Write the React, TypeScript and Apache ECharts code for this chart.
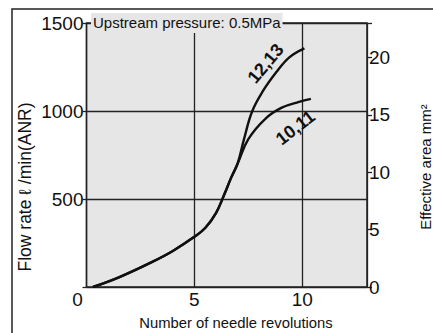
import React, { useEffect, useRef } from "react";
import * as echarts from "echarts";

const xTicks = [0, 5, 10];
const flowTicks = [0, 500, 1000, 1500];
const areaTicks = [0, 5, 10, 15, 20];
const revs1213 = [0.3, 1.5, 3.0, 4.0, 5.0, 5.5, 6.0, 6.4, 6.7, 7.0, 7.3, 7.67, 8.15, 8.8, 9.4, 10.1];
const flow1213 = [0, 55, 140, 205, 285, 335, 420, 530, 620, 700, 840, 996, 1108, 1221, 1305, 1356];
const revs1011 = [0.3, 1.5, 3.0, 4.0, 5.0, 5.5, 6.0, 6.4, 6.7, 7.0, 7.5, 8.3, 9.05, 9.85, 10.4];
const flow1011 = [0, 55, 140, 205, 285, 335, 420, 530, 620, 700, 840, 957, 1019, 1052, 1069];

const FONT = "Liberation Sans";

export default function App() {
  const ref = useRef<HTMLDivElement>(null);
  useEffect(() => {
    const chart = echarts.init(ref.current!, null, { renderer: "svg" });
    const lineStyle = { color: "#111", width: 2.4 };
    const tagLabel = (text: string, rotate: number) => ({
      show: true,
      formatter: text,
      rotate,
      position: "inside",
      fontWeight: "bold",
      fontSize: 18,
      color: "#111",
      fontFamily: FONT,
    });
    chart.setOption({
      animation: false,
      backgroundColor: "#fff",
      textStyle: { fontFamily: FONT },
      grid: {
        left: 86.5,
        right: 66,
        top: 23,
        bottom: 46,
        show: true,
        backgroundColor: "#e6e6e6",
        borderColor: "#222",
        borderWidth: 1.5,
      },
      xAxis: {
        type: "value",
        min: 0,
        max: 13,
        interval: 5,
        axisLine: { show: false },
        axisTick: { show: false },
        splitLine: { show: true, lineStyle: { color: "#222", width: 1.3 } },
        axisLabel: {
          margin: 3,
          color: "#111",
          fontSize: 19,
          fontFamily: FONT,
          formatter: (v: number) => (xTicks.includes(v) ? (v === 0 ? "{z|0}" : String(v)) : ""),
          rich: { z: { fontSize: 19, fontFamily: FONT, color: "#111", padding: [0, 18, 0, 0] } },
        },
      },
      yAxis: [
        {
          type: "value",
          min: 0,
          max: 1500,
          interval: 500,
          axisLine: { show: false },
          axisTick: { show: true, length: 4, lineStyle: { color: "#222", width: 1.3 } },
          splitLine: { show: true, lineStyle: { color: "#222", width: 1.3 } },
          axisLabel: {
            margin: 3,
            color: "#111",
            fontSize: 19,
            fontFamily: FONT,
            formatter: (v: number) => (flowTicks.includes(v) && v !== 0 ? String(v) : ""),
          },
        },
        {
          type: "value",
          position: "right",
          min: 0,
          max: 23,
          interval: 5,
          axisLine: { show: false },
          axisTick: { show: true, length: 5, lineStyle: { color: "#222", width: 1.3 } },
          splitLine: { show: false },
          axisLabel: {
            margin: 2,
            color: "#111",
            fontSize: 19,
            fontFamily: FONT,
            formatter: (v: number) => (areaTicks.includes(v) ? String(v) : ""),
          },
        },
      ],
      series: [
        {
          type: "line",
          data: revs1213.map((x, i) => [x, flow1213[i]]),
          showSymbol: false,
          smooth: 0.4,
          lineStyle,
          markPoint: {
            symbol: "circle",
            symbolSize: 1,
            itemStyle: { color: "rgba(0,0,0,0)" },
            data: [{ coord: [8.3, 1270], label: tagLabel("12,13", 50) }],
          },
        },
        {
          type: "line",
          data: revs1011.map((x, i) => [x, flow1011[i]]),
          showSymbol: false,
          smooth: 0.4,
          lineStyle,
          markPoint: {
            symbol: "circle",
            symbolSize: 1,
            itemStyle: { color: "rgba(0,0,0,0)" },
            data: [{ coord: [9.68, 905], label: tagLabel("10,11", 38) }],
          },
        },
      ],
      graphic: [
        {
          type: "rect",
          shape: { x: 12, y: 9, width: 440, height: 340 },
          style: { fill: "none", stroke: "#222", lineWidth: 1.5 },
          z: 10,
        },
        {
          type: "text",
          x: 91,
          y: 13,
          z: 10,
          style: {
            text: "Upstream pressure: 0.5MPa",
            fontSize: 15,
            fontFamily: FONT,
            fill: "#111",
            backgroundColor: "#e6e6e6",
            padding: [2, 2, 3, 2],
          },
        },
        {
          type: "text",
          x: 25,
          y: 187,
          rotation: Math.PI / 2,
          style: {
            text: "Flow rate ℓ /min(ANR)",
            fontSize: 17.5,
            fontFamily: FONT,
            fill: "#111",
            align: "center",
            verticalAlign: "middle",
          },
        },
        {
          type: "text",
          x: 425,
          y: 167,
          rotation: Math.PI / 2,
          style: {
            text: "Effective area mm²",
            fontSize: 15,
            fontFamily: FONT,
            fill: "#111",
            align: "center",
            verticalAlign: "middle",
          },
        },
        {
          type: "text",
          x: 236,
          y: 323,
          style: {
            text: "Number of needle revolutions",
            fontSize: 14.8,
            fontFamily: FONT,
            fill: "#111",
            align: "center",
            verticalAlign: "middle",
          },
        },
      ],
    });
    return () => chart.dispose();
  }, []);
  return <div ref={ref} style={{ width: 433, height: 333, position: "absolute", left: 0, top: 0 }} />;
}
